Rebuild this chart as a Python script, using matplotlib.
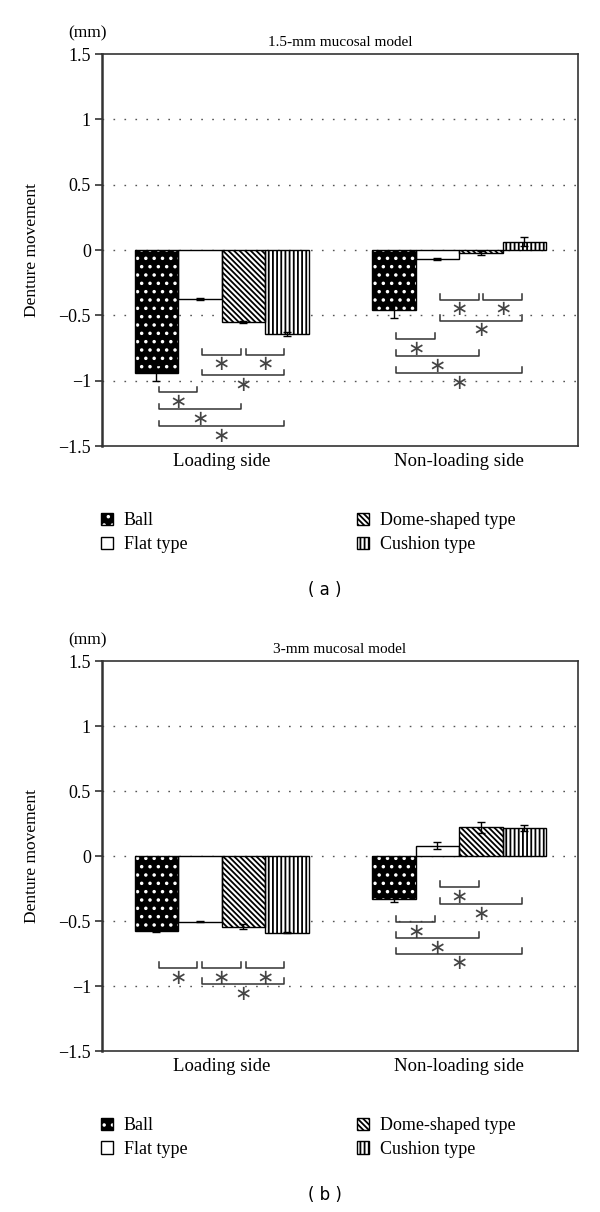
import matplotlib
matplotlib.use('Agg')
import matplotlib.pyplot as plt
import numpy as np
from matplotlib.legend_handler import HandlerTuple

plt.rcParams['font.family'] = ['Liberation Serif', 'DejaVu Serif']
plt.rcParams['hatch.linewidth'] = 1.3

# Datos
groups = ['Loading side', 'Non-loading side']
series = ['Ball', 'Flat type', 'Dome-shaped type', 'Cushion type']

# (a) 1.5-mm mucosal model
a_loading = [-0.94, -0.375, -0.55, -0.645]
a_loading_err = [0.06, 0.005, 0.01, 0.015]
a_nonloading = [-0.46, -0.07, -0.02, 0.065]
a_nonloading_err = [0.06, 0.01, 0.015, 0.035]

# (b) 3-mm mucosal model
b_loading = [-0.575, -0.505, -0.545, -0.59]
b_loading_err = [0.01, 0.005, 0.02, 0.005]
b_nonloading = [-0.33, 0.08, 0.22, 0.215]
b_nonloading_err = [0.02, 0.025, 0.04, 0.02]

# comparaciones significativas: (grupo, barra i, barra j, nivel)
sig_a = [(0, 1, 2, -0.80), (0, 2, 3, -0.80), (0, 1, 3, -0.96),
         (0, 0, 1, -1.09), (0, 0, 2, -1.22), (0, 0, 3, -1.35),
         (1, 1, 2, -0.38), (1, 2, 3, -0.38), (1, 1, 3, -0.54),
         (1, 0, 1, -0.68), (1, 0, 2, -0.81), (1, 0, 3, -0.94)]
sig_b = [(0, 0, 1, -0.86), (0, 1, 2, -0.86), (0, 2, 3, -0.86), (0, 1, 3, -0.985),
         (1, 1, 2, -0.24), (1, 1, 3, -0.37), (1, 0, 1, -0.51),
         (1, 0, 2, -0.63), (1, 0, 3, -0.75)]

yticks = [-1.5, -1, -0.5, 0, 0.5, 1, 1.5]
ytick_labels = ['\u22121.5', '\u22121', '\u22120.5', '0', '0.5', '1', '1.5']

# estilo de cada serie: relleno, trama, color de trama
styles = [('black', '..', 'white'),
          ('white', '', 'black'),
          ('white', '\\' * 6, 'black'),
          ('white', '||||', 'black')]

W = 0.183
AX_COLOR = '#333333'


def draw_panel(ax, loading, loading_err, nonloading, nonloading_err, sigs, title):
    x = np.arange(len(groups))
    means = np.array([loading, nonloading])
    errs = np.array([loading_err, nonloading_err])
    handles = []
    for k in range(len(series)):
        face, hatch, hcol = styles[k]
        pos = x + (k - 1.5) * W
        b1 = ax.bar(pos, means[:, k], W, color=face, hatch=hatch,
                    edgecolor=hcol, linewidth=0, zorder=2)
        b2 = ax.bar(pos, means[:, k], W, fill=False, edgecolor='black',
                    linewidth=1.0, zorder=3)
        ax.errorbar(pos, means[:, k], yerr=errs[:, k], fmt='none',
                    ecolor='black', elinewidth=1.0, capsize=3, zorder=4)
        handles.append((b1[0], b2[0]))

    for g, i, j, y in sigs:
        x1 = g + (i - 1.5) * W + 0.01
        x2 = g + (j - 1.5) * W - 0.01
        h = 0.045
        ax.plot([x1, x1, x2, x2], [y + h, y, y, y + h], color=AX_COLOR,
                lw=1.1, zorder=5)
        ax.text((x1 + x2) / 2, y - 0.075, '\u2217', ha='center', va='center',
                fontsize=15, color='#444444', family='DejaVu Sans', zorder=5)

    ax.set_xlim(-0.503, 1.5)
    ax.set_ylim(-1.5, 1.5)
    ax.set_yticks(yticks)
    ax.set_yticklabels(ytick_labels, fontsize=13)
    ax.set_xticks(x)
    ax.set_xticklabels(groups, fontsize=13.5)
    ax.tick_params(axis='x', length=0, pad=5)
    ax.tick_params(axis='y', direction='out', length=5, width=1.2,
                   color=AX_COLOR, pad=3)
    for y in [-1, -0.5, 0, 0.5, 1]:
        ax.axhline(y, color='#555555', lw=1.0, ls=(0, (1.2, 6.7)), zorder=1)
    for s in ax.spines.values():
        s.set_color(AX_COLOR)
        s.set_linewidth(1.2)
    ax.spines['left'].set_linewidth(1.8)
    ax.set_ylabel('Denture movement', fontsize=12.5)
    ax.yaxis.set_label_coords(-0.13, 0.5)
    ax.set_title(title, fontsize=11, pad=6)
    ax.text(-0.03, 1.053, '(mm)', transform=ax.transAxes, ha='center',
            va='center', fontsize=12.5)

    ax.legend(handles, series, loc='upper left', ncol=2, frameon=False,
              bbox_to_anchor=(-0.002, -0.169), borderpad=0, borderaxespad=0,
              fontsize=13, handlelength=0.65, handleheight=0.65,
              handletextpad=0.6, labelspacing=0.38, columnspacing=9.4,
              handler_map={tuple: HandlerTuple(ndivide=1)})


fig = plt.figure(figsize=(6, 12.12), dpi=100)
ax_a = fig.add_axes([0.17, 0.632, 0.7933, 0.3234])
ax_b = fig.add_axes([0.17, 0.1328, 0.7933, 0.3218])

draw_panel(ax_a, a_loading, a_loading_err, a_nonloading, a_nonloading_err,
           sig_a, '1.5-mm mucosal model')
draw_panel(ax_b, b_loading, b_loading_err, b_nonloading, b_nonloading_err,
           sig_b, '3-mm mucosal model')

fig.text(325 / 600, 1 - 590 / 1212, '( a )', ha='center', va='center',
         fontsize=12, family='DejaVu Sans')
fig.text(325 / 600, 1 - 1195 / 1212, '( b )', ha='center', va='center',
         fontsize=12, family='DejaVu Sans')

fig.savefig('out.png', dpi=100)
